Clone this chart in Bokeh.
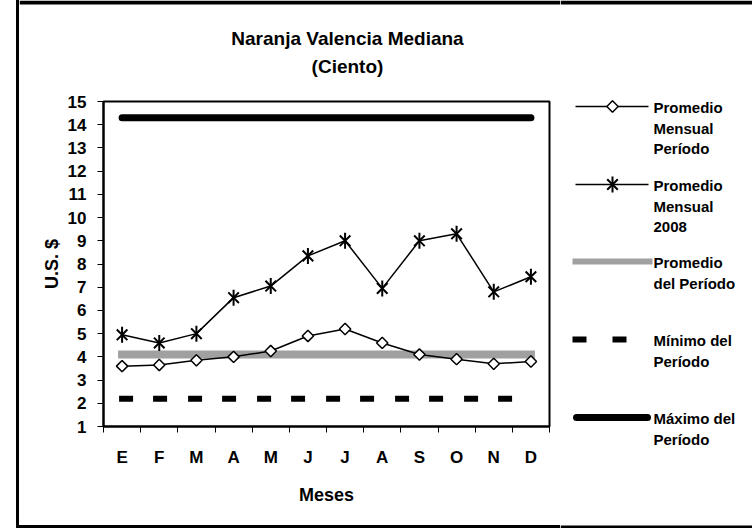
import math
from bokeh.plotting import figure
from bokeh.models import Range1d, FixedTicker, Div
from bokeh.layouts import row, column
from bokeh.embed import file_html
from bokeh.resources import INLINE
from bokeh.core.properties import value

# ---------------- data ----------------
months = ["E", "F", "M", "A", "M", "J", "J", "A", "S", "O", "N", "D"]
prom_mensual_periodo = [3.6, 3.65, 3.85, 4.0, 4.25, 4.9, 5.2, 4.6, 4.1, 3.9, 3.7, 3.8]
prom_mensual_2008 = [4.95, 4.6, 5.0, 6.55, 7.05, 8.35, 9.0, 6.95, 9.0, 9.3, 6.8, 7.45]
promedio_periodo = 4.1
minimo_periodo = 2.2
maximo_periodo = 14.3
y_ticks = list(range(1, 16))

title_text = "Naranja Valencia Mediana"
subtitle_text = "(Ciento)"
legend_labels = [
    ["Promedio", "Mensual", "Período"],
    ["Promedio", "Mensual", "2008"],
    ["Promedio", "del Período"],
    ["Mínimo del", "Período"],
    ["Máximo del", "Período"],
]

FONT = "Liberation Sans"
xs = [i + 1 for i in range(len(months))]


def blank(fig):
    fig.frame_align = False
    fig.axis.visible = False
    fig.grid.visible = False
    fig.outline_line_color = None
    fig.background_fill_color = "white"
    fig.border_fill_color = "white"


# ---------------- title panel (page y 0..84) ----------------
tf = figure(width=541, height=84, x_range=Range1d(19, 560), y_range=Range1d(84, 0),
            output_backend="svg", toolbar_location=None,
            min_border=0, min_border_left=0, min_border_right=0,
            min_border_top=0, min_border_bottom=0)
blank(tf)
tf.quad(left=[19], right=[560], top=[0], bottom=[4], fill_color="black", line_color=None)
tf.text(x=[347, 347], y=[38, 66], text=[title_text, subtitle_text],
        text_font=value(FONT), text_font_size="19px", text_font_style="bold",
        text_align="center", text_baseline="middle", text_color="black")

# ---------------- main chart (page y 84..525) ----------------
p = figure(width=541, height=441, x_range=Range1d(0.5, len(months) + 0.5),
           y_range=Range1d(y_ticks[0], y_ticks[-1]),
           output_backend="svg", toolbar_location=None,
           min_border_left=84, min_border_right=11, min_border_top=17, min_border_bottom=99)
p.frame_align = False
p.grid.visible = False
p.outline_line_color = "black"
p.outline_line_width = 2
p.background_fill_color = "white"
p.border_fill_color = "white"

for ax in (p.xaxis[0], p.yaxis[0]):
    ax.axis_line_width = 2
    ax.axis_line_color = "black"
    ax.major_tick_line_color = "black"
    ax.minor_tick_line_color = "black"
    ax.major_label_text_font = FONT
    ax.major_label_text_font_style = "bold"
    ax.major_label_text_color = "black"
    ax.axis_label_text_font = FONT
    ax.axis_label_text_font_size = "18px"
    ax.axis_label_text_font_style = "bold"
    ax.axis_label_text_color = "black"

# y axis
ya = p.yaxis[0]
ya.ticker = FixedTicker(ticks=y_ticks)
ya.major_tick_out = 6
ya.major_tick_in = 0
ya.minor_tick_out = 0
ya.minor_tick_in = 0
ya.major_label_text_font_size = "17px"
ya.major_label_standoff = 11
ya.axis_label = "U.S. $"
ya.axis_label_standoff = 3

# x axis: labels at month centres, tick marks at boundaries
xa = p.xaxis[0]
xa.ticker = FixedTicker(ticks=xs, minor_ticks=[x - 0.5 for x in xs] + [xs[-1] + 0.5])
xa.major_label_overrides = {x: m for x, m in zip(xs, months)}
xa.major_tick_out = 0
xa.major_tick_in = 0
xa.minor_tick_out = 6
xa.minor_tick_in = 0
xa.major_label_text_font_size = "17px"
xa.major_label_standoff = 15
xa.axis_label = "Meses"
xa.axis_label_standoff = 15

# series
p.line(xs, [maximo_periodo] * len(xs), line_width=7, line_color="black", line_cap="round")
p.line(xs, [promedio_periodo] * len(xs), line_width=8, line_color="#a0a0a0", line_cap="square")
p.line(xs, [minimo_periodo] * len(xs), line_width=6, line_color="black",
       line_dash="8 26 8 27", line_cap="square")

p.line(xs, prom_mensual_periodo, line_width=1.5, line_color="black")
p.scatter(xs, prom_mensual_periodo, marker="square", angle=math.pi / 4, size=8,
          fill_color="white", line_color="black", line_width=1.5)

p.line(xs, prom_mensual_2008, line_width=1.5, line_color="black")
p.scatter(xs, prom_mensual_2008, marker="x", size=15, line_color="black", line_width=2)
p.scatter(xs, prom_mensual_2008, marker="dash", angle=math.pi / 2, size=16,
          line_color="black", line_width=2)

# ---------------- legend panel (page y 0..528) ----------------
lg = figure(width=192, height=528, x_range=Range1d(560, 752), y_range=Range1d(528, 0),
            output_backend="svg", toolbar_location=None,
            min_border=0, min_border_left=0, min_border_right=0,
            min_border_top=0, min_border_bottom=0)
blank(lg)
lg.quad(left=[560, 560], right=[752, 752], top=[0, 525], bottom=[4, 528],
        fill_color="black", line_color=None)

item_y = [106, 184, 261, 339, 417]
gx0, gx1, gxm = 575, 648, 612

lg.line([gx0, gx1], [item_y[0]] * 2, line_width=1.5, line_color="black")
lg.scatter([gxm], [item_y[0]], marker="square", angle=math.pi / 4, size=8,
           fill_color="white", line_color="black", line_width=1.5)
lg.line([gx0, gx1], [item_y[1]] * 2, line_width=1.5, line_color="black")
lg.scatter([gxm], [item_y[1]], marker="x", size=15, line_color="black", line_width=2)
lg.scatter([gxm], [item_y[1]], marker="dash", angle=math.pi / 2, size=16,
           line_color="black", line_width=2)
lg.line([572, 652], [item_y[2]] * 2, line_width=6, line_color="#a0a0a0")
lg.segment(x0=[572, 612], y0=[item_y[3]] * 2, x1=[586, 626], y1=[item_y[3]] * 2,
           line_width=6, line_color="black")
lg.line([576, 647], [item_y[4]] * 2, line_width=7, line_color="black", line_cap="round")

ty, tt = [], []
for yy, lines in zip(item_y, legend_labels):
    for k, t in enumerate(lines):
        ty.append(yy + 1 + 20.7 * k)
        tt.append(t)
lg.text(x=653, y=ty, text=tt,
        text_font=value(FONT), text_font_size="15px", text_font_style="bold",
        text_baseline="middle", text_align="left", text_color="black")

# ---------------- outer frame edges ----------------
left_edge = Div(text="", width=3, height=528, margin=0, styles={"background-color": "black"})
bottom_edge = Div(text="", width=541, height=3, margin=0, styles={"background-color": "black"})

layout = row(left_edge, column(tf, p, bottom_edge), lg)
layout.margin = 0
layout.styles = {"position": "absolute", "top": "0px", "left": "16px"}

with open("out.html", "w") as f:
    f.write(file_html(layout, INLINE))
